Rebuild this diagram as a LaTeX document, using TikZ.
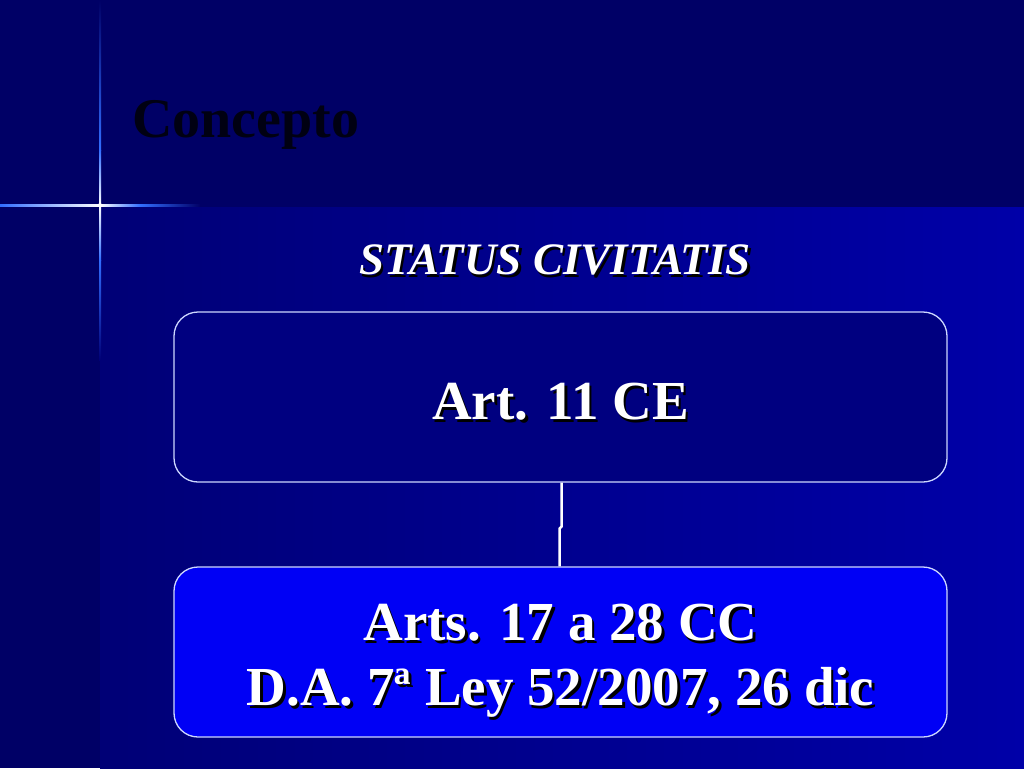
\documentclass[tikz,border=0pt]{standalone}
\usepackage{fontspec}
\setmainfont{Liberation Serif}
\usetikzlibrary{shapes,arrows,positioning}

\definecolor{fondo}{RGB}{0,0,102}
\definecolor{fondomedio}{RGB}{0,0,118}
\definecolor{fondoclaro}{RGB}{0,0,168}
\definecolor{cajauno}{RGB}{0,0,128}
\definecolor{cajados}{RGB}{0,0,245}
\definecolor{borde}{RGB}{205,215,255}
\definecolor{destello}{RGB}{50,110,255}

\tikzset{
	caja/.style={draw=borde, line width=1.3pt, rounded corners=24pt, minimum width=773pt, minimum height=170pt, inner sep=0pt},
	texto/.style={text=white, font=\bfseries\fontsize{55}{65}\selectfont, align=center},
	sombra/.style={texto, text=black},
	conector/.style={draw=white, line width=2.5pt},
}

\begin{document}
\begin{tikzpicture}[x=1pt, y=-1pt]
	\useasboundingbox (0,0) rectangle (1024,768);
	% fondo
	\fill[fondo] (0,0) rectangle (1024,768);
	\shade[left color=fondomedio, right color=fondoclaro] (100,207) rectangle (1024,768);
	\shade[top color=fondo, bottom color=destello] (99,0) rectangle (101,150);
	\shade[top color=destello, bottom color=white] (99,150) rectangle (101,205);
	\shade[top color=white, bottom color=destello] (99,205) rectangle (101,260);
	\shade[top color=destello, bottom color=fondomedio] (99,260) rectangle (101,360);
	\shade[left color=destello, right color=white] (0,204) rectangle (100,206.5);
	\shade[left color=white, right color=destello] (100,204) rectangle (140,206.5);
	\shade[left color=destello, right color=fondo] (140,204) rectangle (200,206.5);
	\fill[white] (100,205.2) circle (2);

	\node[anchor=base west, inner sep=0pt, text={rgb,255:red,0;green,0;blue,18}, font=\bfseries\fontsize{56}{67}\selectfont] (titulo) at (132,137) {Concepto};

	\node[sombra, font=\bfseries\itshape\fontsize{45}{54}\selectfont] (status-s) at (557.5,262.5) {STATUS CIVITATIS};
	\node[texto, font=\bfseries\itshape\fontsize{45}{54}\selectfont] (status) at (555,260) {STATUS CIVITATIS};

	\node[caja, fill=cajauno] (art) at (560.5,397) {};
	\node[caja, fill=cajados] (arts) at (560.5,652) {};

	\node[sombra] (art-s) at ([shift={(2.5,7.5)}]art) {Art. 11 CE};
	\node[texto] (art-t) at ([shift={(0,5)}]art) {Art. 11 CE};
	\node[sombra] (arts-s) at ([shift={(2.5,11.5)}]arts) {Arts. 17 a 28 CC\\D.A. 7ª Ley 52/2007, 26 dic};
	\node[texto] (arts-t) at ([shift={(0,9)}]arts) {Arts. 17 a 28 CC\\D.A. 7ª Ley 52/2007, 26 dic};

	\draw[conector] ([xshift=1pt]art.south) -- ++(0,44) -- ++(-2,2) -- ([xshift=-1pt]arts.north);
\end{tikzpicture}
\end{document}
